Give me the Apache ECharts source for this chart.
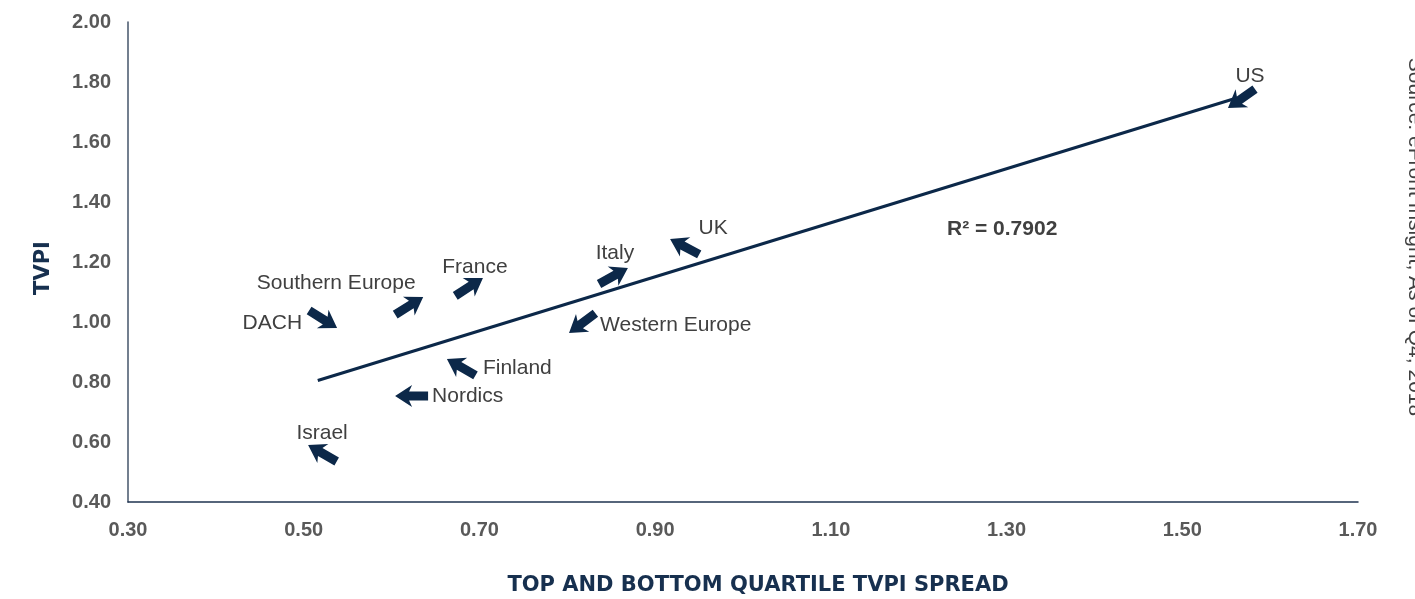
<!DOCTYPE html>
<html>
<head>
<meta charset="utf-8">
<title>TVPI vs quartile spread</title>
<script src="https://cdn.jsdelivr.net/npm/echarts@6/dist/echarts.min.js"></script>
<style>
  html, body { margin: 0; padding: 0; background: #fff; }
  #chart { width: 1415px; height: 599px; }
</style>
</head>
<body>
<div id="chart"></div>
<script>
// data (arrow tips mark the points)
var regions = ['DACH', 'Southern Europe', 'France', 'Finland', 'Nordics', 'Israel', 'Italy', 'UK', 'Western Europe', 'US'];
var spread  = [0.538, 0.636, 0.704, 0.663, 0.604, 0.505, 0.869, 0.917, 0.802, 1.552];
var tvpi    = [0.980, 1.083, 1.147, 0.877, 0.753, 0.590, 1.180, 1.277, 0.963, 1.713];
var trendX  = [0.516, 1.560];
var trendY  = [0.805, 1.745];
var rSquared = '0.7902';

// arrow direction (deg, screen) and label placement, per region
var arrowAngle  = [32, -32, -33, -150, 180, -150, -29, -152, 143, 145];
var labelOffset = [[-35, -5], [-87, -14], [-8, -11], [36, 9], [37, 0], [14, -12], [-13, -15], [43, -11], [31, -8], [22, -32]];
var labelAlign  = ['right', 'center', 'center', 'left', 'left', 'center', 'center', 'center', 'left', 'center'];

var NAVY = '#0c2849';
var TXT = '#404040';
var FONT = '"Liberation Sans", Arial, sans-serif';

// arrow pointing along +x, tip at origin
var ARROW = [[0, 0], [-17, -11], [-14, -4.5], [-33, -4.5], [-33, 4.5], [-14, 4.5], [-17, 11]];

var points = [];
for (var i = 0; i < regions.length; i++) {
  points.push([spread[i], tvpi[i]]);
}
var trend = [[trendX[0], trendY[0]], [trendX[1], trendY[1]]];

function renderArrow(params, api) {
  var i = params.dataIndex;
  var tip = api.coord([api.value(0), api.value(1)]);
  var a = arrowAngle[i] * Math.PI / 180;
  var c = Math.cos(a), s = Math.sin(a);
  var pts = ARROW.map(function (p) {
    return [tip[0] + p[0] * c - p[1] * s, tip[1] + p[0] * s + p[1] * c];
  });
  var off = labelOffset[i];
  return {
    type: 'group',
    children: [
      { type: 'polygon', shape: { points: pts }, style: { fill: NAVY } },
      {
        type: 'text',
        x: tip[0] + off[0],
        y: tip[1] + off[1],
        style: {
          text: regions[i],
          fill: TXT,
          font: '21px ' + FONT,
          align: labelAlign[i], textAlign: labelAlign[i],
          verticalAlign: 'middle', textVerticalAlign: 'middle'
        }
      }
    ]
  };
}

var chart = echarts.init(document.getElementById('chart'));
var option = {
  animation: false,
  grid: { left: 128, right: 57, top: 22, bottom: 97 },
  xAxis: {
    type: 'value',
    min: 0.3, max: 1.7, interval: 0.2,
    axisLine: { lineStyle: { color: '#1f3350', width: 1.5 } },
    axisTick: { show: false },
    splitLine: { show: false },
    axisLabel: {
      margin: 18,
      color: '#595959', fontWeight: 'bold', fontSize: 20, fontFamily: FONT,
      formatter: function (v) { return v.toFixed(2); }
    }
  },
  yAxis: {
    type: 'value',
    min: 0.4, max: 2.0, interval: 0.2,
    axisLine: { show: true, lineStyle: { color: '#44546a', width: 1.5 } },
    axisTick: { show: false },
    splitLine: { show: false },
    axisLabel: {
      margin: 17,
      color: '#595959', fontWeight: 'bold', fontSize: 20, fontFamily: FONT,
      formatter: function (v) { return v.toFixed(2); }
    }
  },
  graphic: [
    {
      type: 'text', x: 758, y: 586,
      style: {
        text: 'TOP AND BOTTOM QUARTILE TVPI SPREAD', fill: '#17304f',
        font: 'bold 21px "DejaVu Sans", sans-serif',
        align: 'center', verticalAlign: 'middle'
      }
    },
    {
      type: 'text', x: 44, y: 268, rotation: Math.PI / 2,
      style: {
        text: 'TVPI', fill: '#17304f',
        font: 'bold 21px "DejaVu Sans", sans-serif',
        align: 'center', verticalAlign: 'middle'
      }
    },
    {
      type: 'text', left: 947, top: 219,
      style: { text: 'R² = ' + rSquared, fill: TXT, font: 'bold 21px ' + FONT }
    },
    {
      type: 'text', x: 1415, y: 237, rotation: -Math.PI / 2,
      style: {
        text: 'Source: eFront Insight, As of Q4, 2018', fill: TXT,
        font: '21px ' + FONT,
        align: 'center', verticalAlign: 'middle'
      }
    }
  ],
  series: [
    {
      name: 'Trend',
      type: 'line',
      data: trend,
      symbol: 'none',
      lineStyle: { color: NAVY, width: 3 },
      z: 2
    },
    {
      name: 'Regions',
      type: 'custom',
      data: points,
      renderItem: renderArrow,
      z: 3
    }
  ]
};
chart.setOption(option);
</script>
</body>
</html>
